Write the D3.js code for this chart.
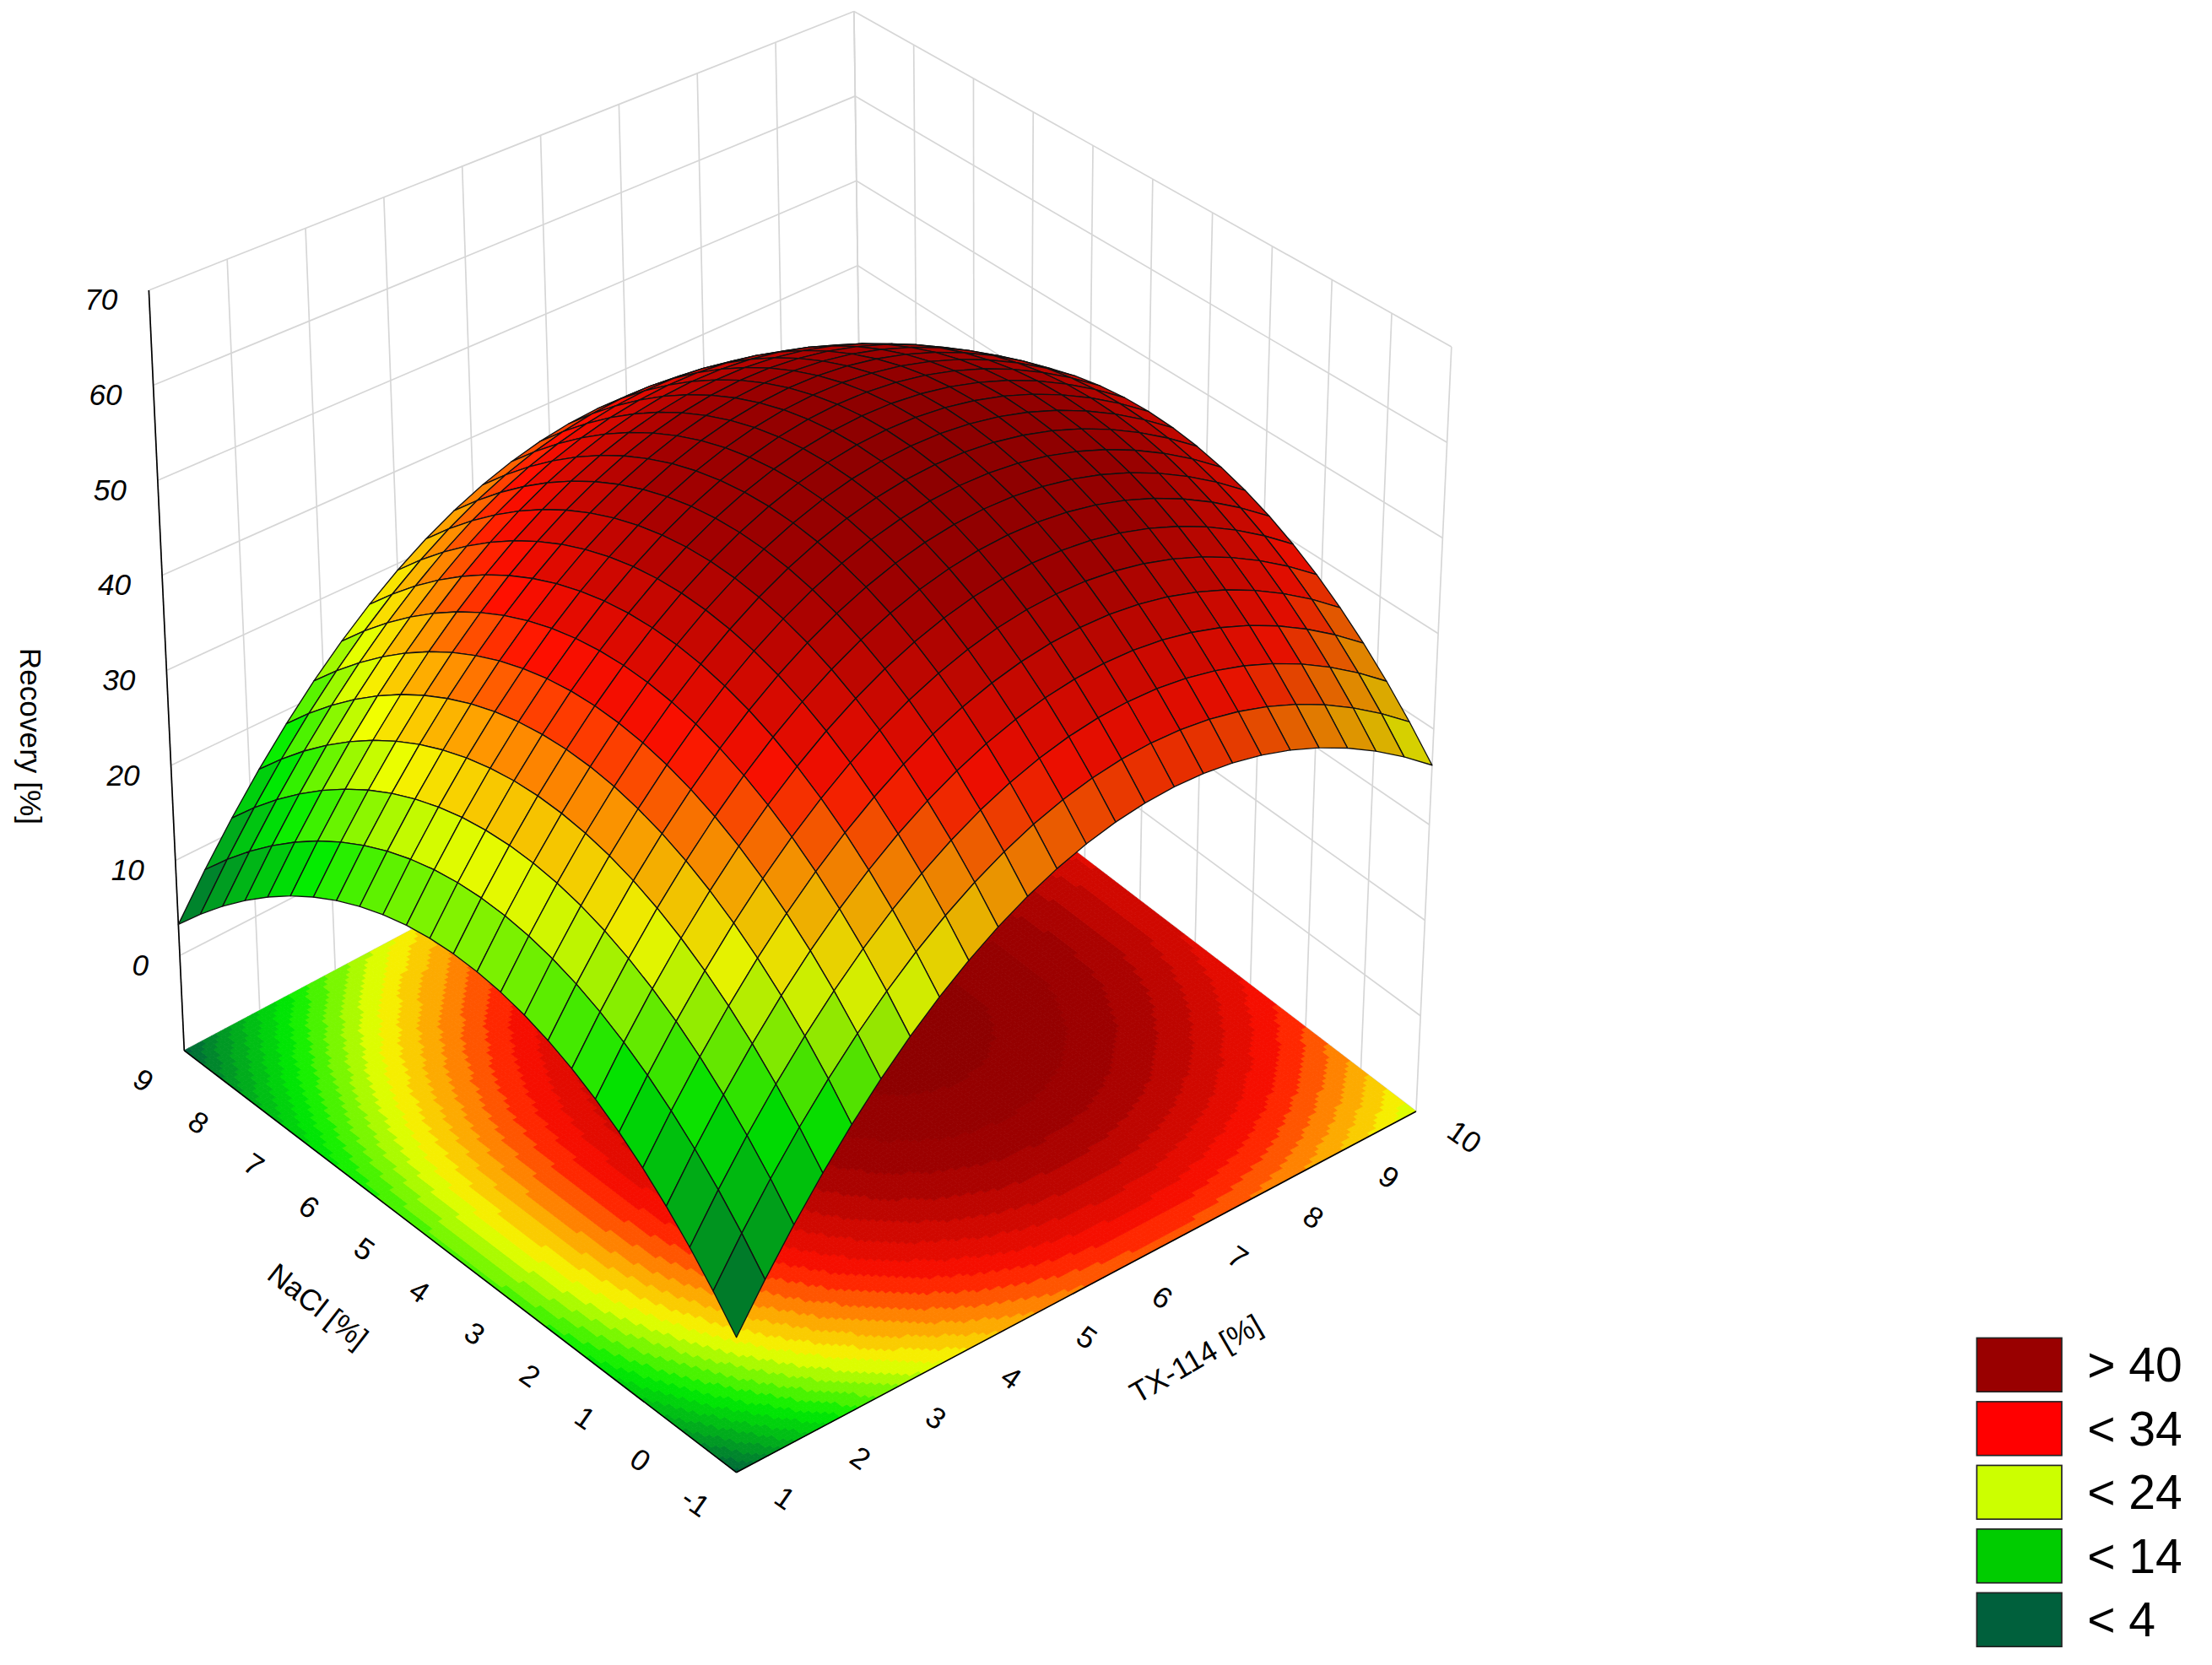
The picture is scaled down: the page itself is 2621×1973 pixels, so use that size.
<!DOCTYPE html>
<html>
<head>
<meta charset="utf-8">
<style>body{margin:0;background:#fff}text{font-family:"Liberation Sans",Arial,sans-serif}</style>
</head>
<body>
<script src="https://cdn.jsdelivr.net/npm/d3@7"></script>
<script>
// ===== data =====
var txTicks = [1,2,3,4,5,6,7,8,9,10];
var naclTicks = [-1,0,1,2,3,4,5,6,7,8,9];
var zTicks = [0,10,20,30,40,50,60,70];
// fitted response surface: z = c0 - a*(TX-t0)^2 - b*(NaCl-n0)^2
var surfCoef = [55, 1.02, 6.75, 0.72, 4];   // c0, a, t0, b, n0
var legendLabels = ["> 40","< 34","< 24","< 14","< 4"];
var legendColors = ["#990000","#ff0000","#ccff00","#00cc00","#00603c"];

var W = 1562, H = 1176;
var svg = d3.select("body").append("svg")
  .attr("width",2621).attr("height",1973).attr("viewBox","0 0 "+W+" "+H);

// ===== projection =====
var u = d3.scaleLinear().domain([1,10]).range([0,1]);
var v = d3.scaleLinear().domain([-1,9]).range([0,1]);
var zs = d3.scaleLinear().domain([-10,70]).range([0,1]);
// floor corners: front(tx1,n-1) right(tx10,n-1) left(tx1,n9) back(tx10,n9)
var C = {f:[520,1040,575,0], r:[1000,785,540,25], l:[130,742,537,-25], b:[610,487,479,-7]};
function bil(k, a, b){
  return (1-a)*(1-b)*C.f[k] + a*(1-b)*C.r[k] + (1-a)*b*C.l[k] + a*b*C.b[k];
}
function P(tx, n, z){
  var a = u(tx), b = v(n), h = zs(z);
  return [bil(0,a,b) + h*bil(3,a,b), bil(1,a,b) - h*bil(2,a,b)];
}
function f(tx, n){
  return surfCoef[0] - surfCoef[1]*Math.pow(tx-surfCoef[2],2) - surfCoef[3]*Math.pow(n-surfCoef[4],2);
}
var color = d3.scaleLinear()
  .domain([3,18,28,34,40,50,60])
  .range(["#00603c","#00ee00","#f4ff00","#ff9900","#ff1000","#a00000","#7a0000"])
  .clamp(true);

// ===== walls grid =====
var g = svg.append("g");
var grid = "#d6d6d6";
function seg(p,q,c,w){ g.append("line").attr("x1",p[0]).attr("y1",p[1]).attr("x2",q[0]).attr("y2",q[1]).attr("stroke",c).attr("stroke-width",w); }
txTicks.forEach(function(t){ seg(P(t,9,-10),P(t,9,70),grid,1); });
naclTicks.forEach(function(n){ seg(P(10,n,-10),P(10,n,70),grid,1); });
zTicks.concat([-10]).forEach(function(z){ seg(P(1,9,z),P(10,9,z),grid,1); seg(P(10,9,z),P(10,-1,z),grid,1); });

// ===== floor contour =====
var line = d3.line();
var NF = 150;
for (var i=0;i<NF;i++) for (var j=0;j<NF;j++){
  var t0 = 1+9*i/NF, t1 = 1+9*(i+1)/NF, n0 = -1+10*j/NF, n1 = -1+10*(j+1)/NF;
  var val = Math.floor(f((t0+t1)/2,(n0+n1)/2)/2)*2+1;
  var c = color(val);
  g.append("path").attr("d", line([P(t0,n0,-10),P(t1,n0,-10),P(t1,n1,-10),P(t0,n1,-10)])+"Z")
    .attr("fill",c).attr("stroke",c).attr("stroke-width",0.5);
}
seg(P(1,9,-10),P(1,-1,-10),"#000",1);
seg(P(1,-1,-10),P(10,-1,-10),"#000",1);
seg(P(1,9,-10),P(1,9,70),"#000",1);

// ===== surface =====
var NS = 24, cells = [];
for (var i=0;i<NS;i++) for (var j=0;j<NS;j++){
  var t0 = 1+9*i/NS, t1 = 1+9*(i+1)/NS, n0 = -1+10*j/NS, n1 = -1+10*(j+1)/NS;
  var tm=(t0+t1)/2, nm=(n0+n1)/2, zm=f(tm,nm);
  var dzt = (f(t1,nm)-f(t0,nm))/(t1-t0), dzn = (f(tm,n1)-f(tm,n0))/(n1-n0);
  var nx=-dzt/10, ny=-dzn/8, nz=1, L=Math.hypot(nx,ny,nz);
  var lam = (-0.3*nx + 0.3*ny + 0.9*nz)/L;
  var base = d3.rgb(color(zm));
  var k = 0.8 + 0.22*lam;
  var c = d3.rgb(Math.min(255,base.r*k),Math.min(255,base.g*k),Math.min(255,base.b*k));
  cells.push({d:i+j, pts:[P(t0,n0,f(t0,n0)),P(t1,n0,f(t1,n0)),P(t1,n1,f(t1,n1)),P(t0,n1,f(t0,n1))], c:c+""});
}
cells.sort(function(a,b){ return b.d-a.d; });
g.selectAll("path.cell").data(cells).enter().append("path").attr("class","cell")
  .attr("d",function(d){ return line(d.pts)+"Z"; })
  .attr("fill",function(d){ return d.c; })
  .attr("stroke","#111").attr("stroke-width",0.8).attr("stroke-linejoin","round");

// ===== labels =====
var fs = 21;
zTicks.forEach(function(z){
  var p = P(1,9,z);
  g.append("text").attr("x",p[0]-22).attr("y",p[1]+14).attr("text-anchor","end")
    .attr("font-size",fs).attr("font-style","italic").text(z);
});
naclTicks.forEach(function(n){
  var p = P(1,n,-10);
  g.append("text").attr("transform","translate("+(p[0]-33)+","+(p[1]+27)+") rotate(35)")
    .attr("text-anchor","middle").attr("font-size",fs).text(n);
});
txTicks.forEach(function(t){
  var p = P(t,-1,-10);
  g.append("text").attr("transform","translate("+(p[0]+30)+","+(p[1]+24)+") rotate(35)")
    .attr("text-anchor","middle").attr("font-size",fs).text(t);
});
g.append("text").attr("transform","translate(14,520) rotate(90)").attr("text-anchor","middle")
  .attr("font-size",fs).text("Recovery [%]");
g.append("text").attr("transform","translate(220,928) rotate(38)").attr("text-anchor","middle")
  .attr("font-size",fs).text("NaCl [%]");
g.append("text").attr("transform","translate(848,966) rotate(-30)").attr("text-anchor","middle")
  .attr("font-size",fs).text("TX-114 [%]");

// ===== legend =====
var lg = svg.append("g").attr("transform","translate(1396,945)");
legendLabels.forEach(function(t,i){
  lg.append("rect").attr("x",0).attr("y",i*45).attr("width",60).attr("height",38)
    .attr("fill",legendColors[i]).attr("stroke","#222").attr("stroke-width",1);
  lg.append("text").attr("x",78).attr("y",i*45+31).attr("font-size",34).text(t);
});
</script>
</body>
</html>
